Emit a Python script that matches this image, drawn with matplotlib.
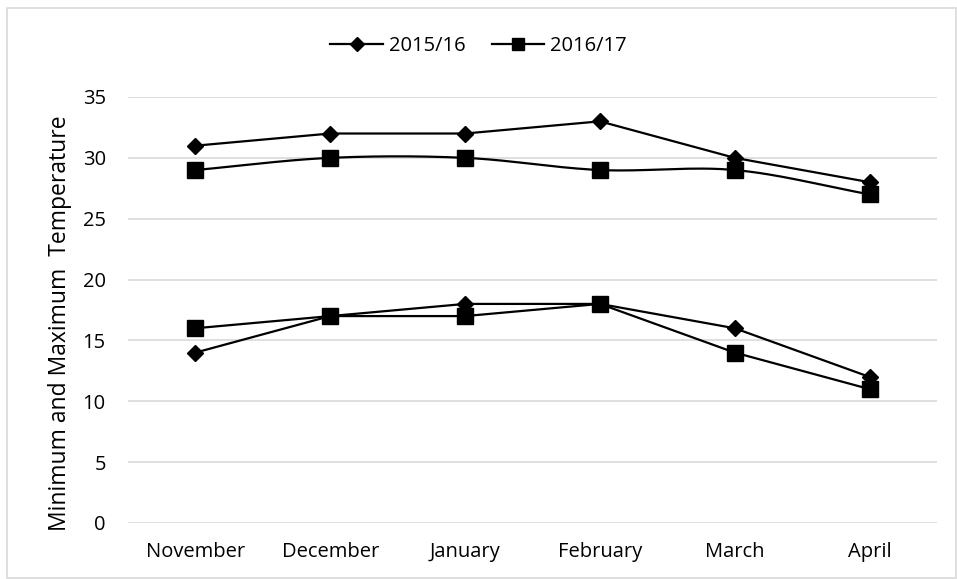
import numpy as np
import matplotlib.pyplot as plt
from matplotlib.lines import Line2D
from matplotlib.patches import Rectangle

# Data
months = ['November', 'December', 'January', 'February', 'March', 'April']
max_1516 = [31, 32, 32, 33, 30, 28]
min_1516 = [14, 17, 18, 18, 16, 12]
max_1617 = [29, 30, 30, 29, 29, 27]
min_1617 = [16, 17, 17, 18, 14, 11]


def smooth(y, n=30):
    # catmull-rom style curve through the points (like Excel "smoothed line")
    y = np.asarray(y, dtype=float)
    x = np.arange(len(y))
    m = np.gradient(y)
    xs, ys = [], []
    for i in range(len(y) - 1):
        t = np.linspace(0, 1, n)
        h00 = 2*t**3 - 3*t**2 + 1
        h10 = t**3 - 2*t**2 + t
        h01 = -2*t**3 + 3*t**2
        h11 = t**3 - t**2
        xs.append(x[i] + t)
        ys.append(h00*y[i] + h10*m[i] + h01*y[i+1] + h11*m[i+1])
    return np.concatenate(xs), np.concatenate(ys)


plt.rcParams['font.family'] = ['Open Sans', 'DejaVu Sans']

fig = plt.figure(figsize=(9.57, 5.79), dpi=100)
ax = fig.add_axes([128/957, 1 - 523/579, (937 - 128)/957, (523 - 97)/579])

x = np.arange(len(months))
lw = 1.6
dms, sms = 7.8, 11

ax.plot(x, max_1516, color='black', lw=lw, marker='D', ms=dms, zorder=3)
ax.plot(x, min_1516, color='black', lw=lw, marker='D', ms=dms, zorder=3)

sx, sy = smooth(max_1617)
ax.plot(sx, sy, color='black', lw=lw, zorder=4)
ax.plot(x, max_1617, ls='none', color='black', marker='s', ms=sms, zorder=4)
ax.plot(x, min_1617, color='black', lw=lw, marker='s', ms=sms, zorder=4)

ax.set_xlim(-0.5, len(months) - 0.5)
ax.set_ylim(0, 35)
ax.set_yticks(range(0, 36, 5))
ax.set_xticks(x)
ax.set_xticklabels(months)
ax.tick_params(axis='both', length=0, labelsize=14.5, colors='black')
ax.tick_params(axis='x', pad=14)
ax.tick_params(axis='y', pad=16)
ax.yaxis.grid(True, color='#d9d9d9', lw=1.2)
ax.set_axisbelow(True)
for s in ax.spines.values():
    s.set_visible(False)

ax.set_ylabel('Minimum and Maximum  Temperature', fontsize=16.5, labelpad=8)
ax.yaxis.label.set_y(0.47)

handles = [
    Line2D([], [], color='black', lw=lw, marker='D', ms=7),
    Line2D([], [], color='black', lw=lw, marker='s', ms=8.5),
]
fig.legend(handles, ['2015/16', '2016/17'], loc='center', bbox_to_anchor=(0.5, 1 - 46/579),
           ncol=2, frameon=False, fontsize=14.5, handlelength=2.6, handletextpad=0.3,
           columnspacing=1.3)

# outer chart border
fig.patches.append(Rectangle((7/957, 1/579), 949/957, (571 - 1)/579, transform=fig.transFigure,
                             fill=False, edgecolor='#d9d9d9', lw=1.2))

fig.savefig('out.png', dpi=100)
